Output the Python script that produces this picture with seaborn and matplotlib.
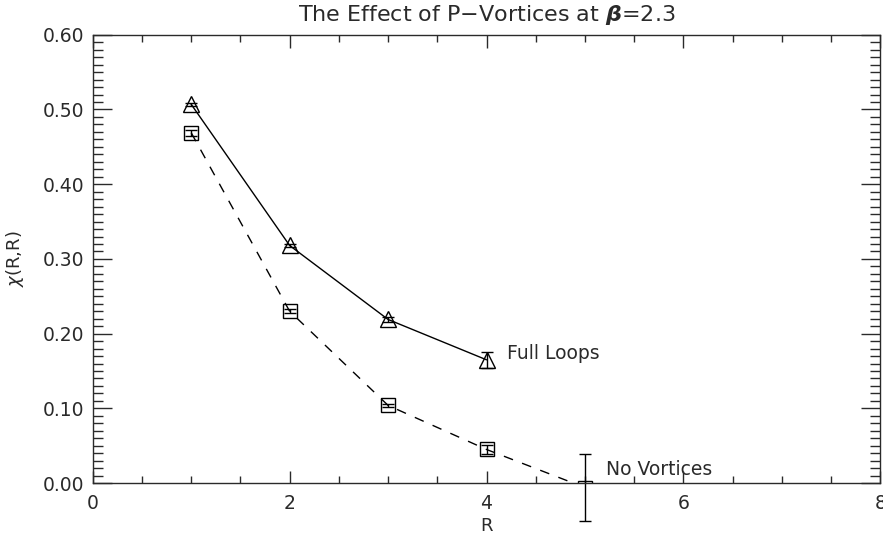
import matplotlib
matplotlib.use('Agg')
import matplotlib.pyplot as plt
from matplotlib.ticker import MultipleLocator, FormatStrFormatter
import seaborn as sns
import pandas as pd

# data
r_full = [1, 2, 3, 4]
chi_full = [0.507, 0.318, 0.219, 0.165]
err_full = [0.002, 0.002, 0.003, 0.011]

r_novort = [1, 2, 3, 4, 5]
chi_novort = [0.469, 0.230, 0.104, 0.045, -0.006]
err_novort = [0.004, 0.003, 0.002, 0.006, 0.045]

sns.set_theme(style='ticks')
plt.rcParams['font.family'] = ['DejaVu Sans']
plt.rcParams['mathtext.fontset'] = 'dejavusans'

txt_col = '#2a2a2a'

full = pd.DataFrame({'R': r_full, 'chi': chi_full})
novort = pd.DataFrame({'R': r_novort, 'chi': chi_novort})

fig = plt.figure(figsize=(8.83, 5.35), dpi=100)
ax = fig.add_axes([0.105, 0.097, 0.892, 0.838])

sns.lineplot(data=full, x='R', y='chi', ax=ax, color='black', lw=1.0,
             marker='^', markersize=11, markerfacecolor='none',
             markeredgecolor='black', markeredgewidth=1.0, errorbar=None)
sns.lineplot(data=novort, x='R', y='chi', ax=ax, color='black', lw=1.0,
             linestyle=(0, (7, 7)), marker='s', markersize=10,
             markerfacecolor='none', markeredgecolor='black',
             markeredgewidth=1.0, errorbar=None)

ax.errorbar(r_full, chi_full, yerr=err_full, fmt='none', ecolor='black',
            elinewidth=1.0, capsize=4.5, clip_on=False)
ax.errorbar(r_novort, chi_novort, yerr=err_novort, fmt='none', ecolor='black',
            elinewidth=1.0, capsize=4, clip_on=False)

ax.text(4.21, 0.173, 'Full Loops', fontsize=13.5, va='center', color=txt_col)
ax.text(5.21, 0.018, 'No Vortices', fontsize=13.5, va='center', color=txt_col)

ax.set_xlim(0, 8)
ax.set_ylim(0, 0.60)
ax.xaxis.set_major_locator(MultipleLocator(2))
ax.xaxis.set_minor_locator(MultipleLocator(0.5))
ax.yaxis.set_major_locator(MultipleLocator(0.1))
ax.yaxis.set_minor_locator(MultipleLocator(0.01))
ax.yaxis.set_major_formatter(FormatStrFormatter('%.2f'))

ax.tick_params(which='both', direction='in', top=True, right=True,
               colors=txt_col, labelsize=13.5, width=1.0)
ax.tick_params(axis='x', which='major', length=9, pad=8)
ax.tick_params(axis='x', which='minor', length=5)
ax.tick_params(axis='y', which='major', length=14, pad=6)
ax.tick_params(axis='y', which='minor', length=7)
for s in ax.spines.values():
    s.set_color(txt_col)
    s.set_linewidth(1.0)

ax.set_xlabel('R', fontsize=13, color=txt_col, labelpad=3)
ax.set_ylabel(r'$\chi$(R,R)', fontsize=13, color=txt_col, labelpad=12)
ax.set_title(r'The Effect of P$-$Vortices at $\boldsymbol{\beta}$=2.3',
             fontsize=16, color=txt_col, pad=10)

fig.savefig('out.png', dpi=100)
